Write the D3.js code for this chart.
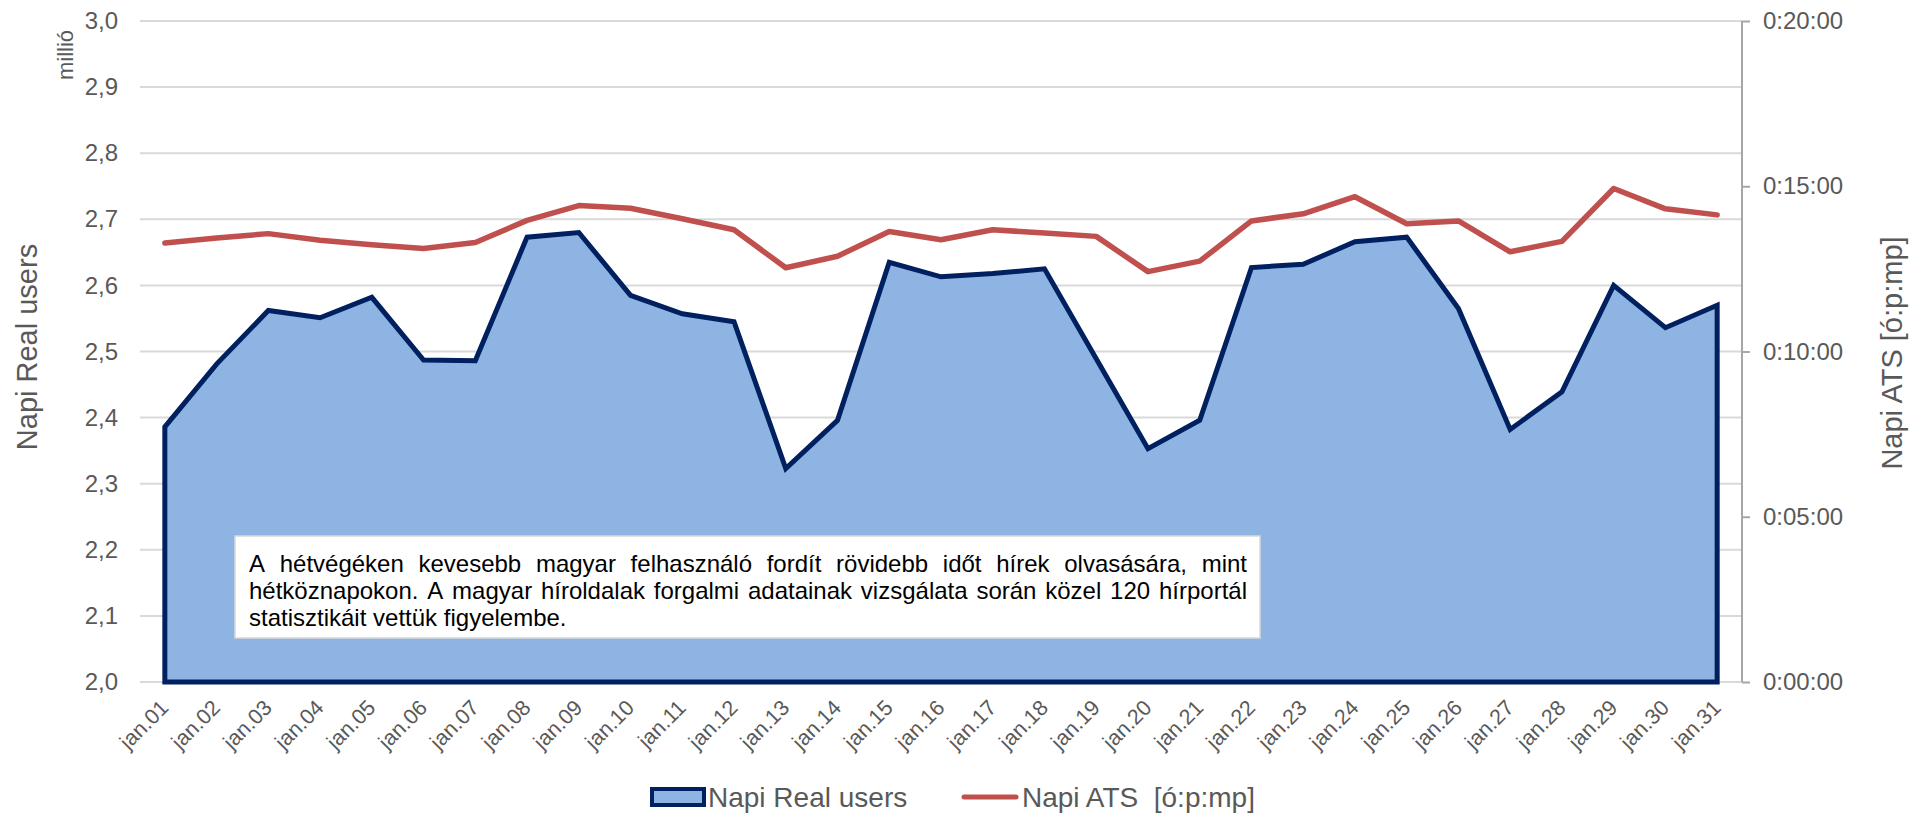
<!DOCTYPE html>
<html>
<head>
<meta charset="utf-8">
<script src="https://cdn.jsdelivr.net/npm/d3@7"></script>
<style>
  body { margin: 0; background: #fff; }
  svg { display: block; font-family: "Liberation Sans", Arial, sans-serif; }
</style>
</head>
<body>
<div id="chart"></div>
<script>
// Napi adatok, január
var days = ["jan.01", "jan.02", "jan.03", "jan.04", "jan.05", "jan.06", "jan.07", "jan.08",
  "jan.09", "jan.10", "jan.11", "jan.12", "jan.13", "jan.14", "jan.15", "jan.16", "jan.17",
  "jan.18", "jan.19", "jan.20", "jan.21", "jan.22", "jan.23", "jan.24", "jan.25", "jan.26",
  "jan.27", "jan.28", "jan.29", "jan.30", "jan.31"];

// Napi Real users, millió
var realUsers = [2.386, 2.481, 2.562, 2.551, 2.582, 2.487, 2.486, 2.673, 2.680, 2.585,
  2.557, 2.545, 2.323, 2.396, 2.635, 2.613, 2.618, 2.625, 2.489, 2.353, 2.396, 2.627,
  2.632, 2.666, 2.673, 2.565, 2.382, 2.439, 2.600, 2.536, 2.570];

// Napi ATS, másodpercben
var atsSeconds = [797, 806, 814, 802, 794, 787, 798, 838, 865, 860, 841, 821, 752, 773,
  818, 803, 821, 815, 809, 745, 764, 837, 850, 881, 832, 837, 781, 800, 896, 859, 848];

var leftTicks = [2.0, 2.1, 2.2, 2.3, 2.4, 2.5, 2.6, 2.7, 2.8, 2.9, 3.0];
var rightTicks = [0, 300, 600, 900, 1200];

var legendLabels = ["Napi Real users", "Napi ATS  [ó:p:mp]"];
var noteLines = [
  "A hétvégéken kevesebb magyar felhasználó fordít rövidebb időt hírek olvasására, mint",
  "hétköznapokon. A magyar híroldalak forgalmi adatainak vizsgálata során közel 120 hírportál",
  "statisztikáit vettük figyelembe."
];

var w = 1911;
var h = 815;
// (window.top is read-only, so plot* names)
var plotLeft = 140, plotRight = 1742, plotTop = 21, plotBottom = 682;
var grey = "#595959";

var svg = d3.select("#chart").append("svg")
  .attr("width", w)
  .attr("height", h);

var x = d3.scalePoint().domain(days).range([plotLeft, plotRight]).padding(0.48);
var y = d3.scaleLinear().domain([2.0, 3.0]).range([plotBottom, plotTop]);
var y2 = d3.scaleLinear().domain([0, 1200]).range([plotBottom, plotTop]);

function fmtTime(s) {
  var m = Math.floor(s / 60), sec = s % 60;
  return "0:" + d3.format("02d")(m) + ":" + d3.format("02d")(sec);
}

// gridlines
svg.append("g")
  .selectAll("line")
  .data(leftTicks)
  .enter().append("line")
  .attr("x1", plotLeft).attr("x2", plotRight)
  .attr("y1", function(d) { return y(d); })
  .attr("y2", function(d) { return y(d); })
  .attr("stroke", "#d9d9d9")
  .attr("stroke-width", 2);

// left axis
var yAxis = svg.append("g")
  .attr("transform", "translate(" + plotLeft + ",0)")
  .call(d3.axisLeft(y).tickValues(leftTicks).tickSize(0).tickPadding(22)
    .tickFormat(function(d) { return d3.format(".1f")(d).replace(".", ","); }));
yAxis.select(".domain").remove();
yAxis.selectAll("text")
  .attr("fill", grey)
  .style("font-size", "24px")
  .style("font-family", "Liberation Sans, Arial, sans-serif");

// right axis
var y2Axis = svg.append("g")
  .attr("transform", "translate(" + plotRight + ",0)")
  .call(d3.axisRight(y2).tickValues(rightTicks).tickSize(8).tickPadding(13)
    .tickFormat(fmtTime));
y2Axis.select(".domain").attr("stroke", "#a6a6a6").attr("stroke-width", 2)
  .attr("d", "M0," + plotTop + "V" + plotBottom);
y2Axis.selectAll(".tick line").attr("stroke", "#a6a6a6").attr("stroke-width", 2);
y2Axis.selectAll("text")
  .attr("fill", grey)
  .style("font-size", "24px")
  .style("font-family", "Liberation Sans, Arial, sans-serif");

// x labels
svg.append("g")
  .selectAll("text")
  .data(days)
  .enter().append("text")
  .attr("transform", function(d) { return "translate(" + (x(d) + 5) + "," + 709 + ") rotate(-45)"; })
  .attr("text-anchor", "end")
  .attr("fill", grey)
  .style("font-size", "21.5px")
  .text(function(d) { return d; });

// area for real users
var area = d3.area()
  .x(function(d, i) { return x(days[i]); })
  .y0(y(2.0))
  .y1(function(d) { return y(d); });

svg.append("path")
  .datum(realUsers)
  .attr("d", area)
  .attr("fill", "#8eb4e3")
  .attr("stroke", "#002060")
  .attr("stroke-width", 5)
  .attr("stroke-linejoin", "miter");

// ATS line
var line = d3.line()
  .x(function(d, i) { return x(days[i]); })
  .y(function(d) { return y2(d); });

svg.append("path")
  .datum(atsSeconds)
  .attr("d", line)
  .attr("fill", "none")
  .attr("stroke", "#c0504d")
  .attr("stroke-width", 5.5)
  .attr("stroke-linecap", "round")
  .attr("stroke-linejoin", "round");

// note box, justified text
svg.append("rect")
  .attr("x", 235).attr("y", 536)
  .attr("width", 1025).attr("height", 102)
  .attr("fill", "#fff")
  .attr("stroke", "#d9d9d9")
  .attr("stroke-width", 1.5);

var textLeft = 249, textRight = 1247;
noteLines.forEach(function(ln, li) {
  var words = ln.split(" ");
  var g = svg.append("g");
  var nodes = words.map(function(wd) {
    return g.append("text")
      .attr("y", 572 + li * 27)
      .attr("fill", "#000")
      .style("font-size", "24px")
      .text(wd);
  });
  var widths = nodes.map(function(n) { return n.node().getComputedTextLength(); });
  var total = d3.sum(widths);
  var justify = li < noteLines.length - 1;
  var gap = justify ? Math.max(3, (textRight - textLeft - total) / (words.length - 1)) : 6.7;
  var cx = textLeft;
  nodes.forEach(function(n, i) {
    n.attr("x", cx);
    cx += widths[i] + gap;
  });
});

// axis titles
svg.append("text")
  .attr("transform", "translate(37,347) rotate(-90)")
  .attr("text-anchor", "middle")
  .attr("fill", grey)
  .style("font-size", "29px")
  .text("Napi Real users");

svg.append("text")
  .attr("transform", "translate(73,55) rotate(-90)")
  .attr("text-anchor", "middle")
  .attr("fill", grey)
  .style("font-size", "22px")
  .text("millió");

svg.append("text")
  .attr("transform", "translate(1902,353) rotate(-90)")
  .attr("text-anchor", "middle")
  .attr("fill", grey)
  .style("font-size", "29px")
  .text("Napi ATS [ó:p:mp]");

// legend
var legend = svg.append("g");
legend.append("rect")
  .attr("x", 652).attr("y", 789)
  .attr("width", 52).attr("height", 16)
  .attr("fill", "#8eb4e3")
  .attr("stroke", "#002060")
  .attr("stroke-width", 4);
legend.append("text")
  .attr("x", 708).attr("y", 807)
  .attr("fill", grey)
  .style("font-size", "28px")
  .text(legendLabels[0]);
legend.append("line")
  .attr("x1", 964).attr("x2", 1016)
  .attr("y1", 797).attr("y2", 797)
  .attr("stroke", "#c0504d")
  .attr("stroke-width", 5)
  .attr("stroke-linecap", "round");
legend.append("text")
  .attr("x", 1022).attr("y", 807)
  .attr("fill", grey)
  .style("font-size", "28px")
  .attr("xml:space", "preserve")
  .text(legendLabels[1]);
</script>
</body>
</html>
